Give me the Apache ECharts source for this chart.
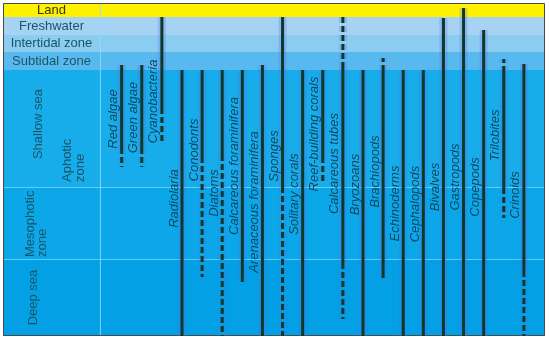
<!DOCTYPE html>
<html><head><meta charset="utf-8">
<script src="https://cdn.jsdelivr.net/npm/echarts@6/dist/echarts.min.js"></script>
<style>html,body{margin:0;padding:0;background:#fff}#c{width:550px;height:340px}</style>
</head><body><div id="c"></div>
<script>
// ---- DATA (depth scale units, 0 = top of the Land band, 333 = bottom of Deep sea) ----
const zoneNames  = ['Land', 'Freshwater', 'Intertidal zone', 'Subtidal zone', 'Shallow sea', 'Mesophotic zone', 'Deep sea'];
const zoneTop    = [0, 14, 32, 49, 67, 184, 256];
const zoneBottom = [14, 32, 49, 67, 184, 256, 333];
const subZoneName = 'Aphotic zone';

const taxa = ['Red algae', 'Green algae', 'Cyanobacteria', 'Radiolaria', 'Conodonts', 'Diatoms',
  'Calcareous foraminifera', 'Arenaceous foraminifera', 'Sponges', 'Solitary corals',
  'Reef-building corals', 'Calcareous tubes', 'Bryozoans', 'Brachiopods', 'Echinoderms',
  'Cephalopods', 'Bivalves', 'Gastropods', 'Copepods', 'Trilobites', 'Crinoids'];

// documented (solid) ranges
const solidRanges = [
  [62, 145], [62, 145], [14, 105], [67, 333], [67, 154], [67, 152], [67, 279], [62, 333],
  [14, 184], [67, 333], [67, 154], [59, 260], [67, 333], [62, 275], [67, 333], [67, 333],
  [15, 333], [5, 333], [27, 333], [63, 185], [61, 268]
];
// uncertain (dashed) ranges
const dashedRanges = [
  [[145, 164]], [[145, 164]], [[105, 140]], [], [[154, 274]], [[152, 333]], [], [],
  [[184, 333]], [], [[154, 178]], [[14, 59], [260, 316]], [], [[55, 59]], [], [],
  [], [], [], [[56, 60], [185, 215]], [[268, 333]]
];

// ---- LAYOUT / STYLE ----
const labelCenter = [116, 114.5, 98.5, 195.5, 147, 190, 163, 199, 153, 191, 131, 160.5, 181.5,
  168.5, 200.5, 201, 184, 174, 184, 132.5, 192];
const bandColors = ['#fff200', '#a6d3f3', '#8acdf1', '#58b9ee', '#17adea', '#0ca7e8', '#03a0e5'];
const LINE = '#0b3a2b';
const TEXT = '#0f4660';
const FONT = '"Liberation Sans", Arial, sans-serif';

const chart = echarts.init(document.getElementById('c'), null, {renderer: 'canvas'});

function renderBand(params, api) {
  const i = params.dataIndex;
  const cs = params.coordSys;
  const y1 = api.coord([0, zoneTop[i]])[1];
  const y2 = api.coord([0, zoneBottom[i]])[1];
  const colRight = api.coord([-1.08, 0])[0];
  const colMid = (cs.x + colRight) / 2;
  const children = [{
    type: 'rect', shape: {x: cs.x, y: y1, width: cs.width, height: y2 - y1},
    style: {fill: bandColors[i]}
  }];
  if (i >= 5) {
    children.push({type: 'line', shape: {x1: cs.x, y1: y1 + 0.5, x2: cs.x + cs.width, y2: y1 + 0.5},
      style: {stroke: 'rgba(120,215,250,0.8)', lineWidth: 1}});
  }
  let t;
  if (i < 4) {
    t = {type: 'text', x: colMid, y: (y1 + y2) / 2, style: {text: zoneNames[i], font: '13px ' + FONT,
      fill: i === 0 ? '#3a3312' : '#1a5566', align: 'center', verticalAlign: 'middle'}};
  } else if (i === 4) {
    t = {type: 'text', x: cs.x + 35, y: y1 + 54, rotation: Math.PI / 2,
      style: {text: zoneNames[i], font: '13px ' + FONT, fill: '#1a5566', align: 'center', verticalAlign: 'middle'}};
  } else if (i === 5) {
    t = {type: 'text', x: cs.x + 33, y: y2 - 2, rotation: Math.PI / 2,
      style: {text: zoneNames[i].replace(' ', '\n'), font: '13px ' + FONT, lineHeight: 12, fill: '#1a5566', align: 'left', verticalAlign: 'middle'}};
  } else {
    t = {type: 'text', x: cs.x + 30, y: (y1 + y2) / 2, rotation: Math.PI / 2,
      style: {text: zoneNames[i], font: '13px ' + FONT, fill: '#1a5566', align: 'center', verticalAlign: 'middle'}};
  }
  children.push(t);
  if (i === 4) {
    children.push({type: 'text', x: cs.x + 70.5, y: y2 - 5, rotation: Math.PI / 2,
      style: {text: subZoneName.replace(' ', '\n'), font: '13px ' + FONT, lineHeight: 13, fill: '#1a5566', align: 'left', verticalAlign: 'middle'}});
  }
  if (i === 6) {
    const top = cs.y, bottom = cs.y + cs.height;
    children.push({type: 'line', shape: {x1: colRight + 0.5, y1: top, x2: colRight + 0.5, y2: bottom},
      style: {stroke: 'rgba(140,220,250,0.85)', lineWidth: 1}});
    children.push({type: 'rect', shape: {x: cs.x + 0.5, y: top + 0.5, width: cs.width - 1, height: cs.height - 1},
      style: {fill: 'none', stroke: '#4a4a4a', lineWidth: 1}});
  }
  return {type: 'group', children};
}

function renderTaxon(params, api) {
  const i = params.dataIndex;
  const x = api.coord([api.value(0), 0])[0];
  const children = [];
  const seg = (a, b, dashed) => {
    const y1 = api.coord([0, a])[1], y2 = api.coord([0, b])[1];
    children.push({type: 'line', shape: {x1: x, y1, x2: x, y2},
      style: {stroke: 'rgba(100,100,225,0.25)', lineWidth: 8, lineDash: dashed ? [6, 3] : null}});
    children.push({type: 'line', shape: {x1: x, y1, x2: x, y2},
      style: {stroke: LINE, lineWidth: 3, lineDash: dashed ? [6, 3] : null}});
  };
  seg(api.value(1), api.value(2), false);
  dashedRanges[i].forEach(r => seg(r[0], r[1], true));
  children.push({type: 'text', x: x - 8, y: api.coord([0, labelCenter[i]])[1], rotation: Math.PI / 2,
    style: {text: taxa[i], font: 'italic 13px ' + FONT, fill: TEXT, align: 'center', verticalAlign: 'middle'}});
  return {type: 'group', children};
}

chart.setOption({
  animation: false,
  grid: {left: 3, right: 5, top: 3, bottom: 4},
  xAxis: {type: 'value', min: -5.9, max: 21.05, show: false},
  yAxis: {type: 'value', inverse: true, min: 0, max: 333, show: false},
  series: [
    {type: 'custom', renderItem: renderBand, clip: false, z: 1,
      data: zoneNames.map((n, i) => [0, zoneTop[i], zoneBottom[i]]), encode: {x: 0, y: [1, 2]}},
    {type: 'custom', renderItem: renderTaxon, clip: false, z: 2,
      data: taxa.map((t, i) => [i, solidRanges[i][0], solidRanges[i][1]]), encode: {x: 0, y: [1, 2]}}
  ]
});
</script></body></html>
